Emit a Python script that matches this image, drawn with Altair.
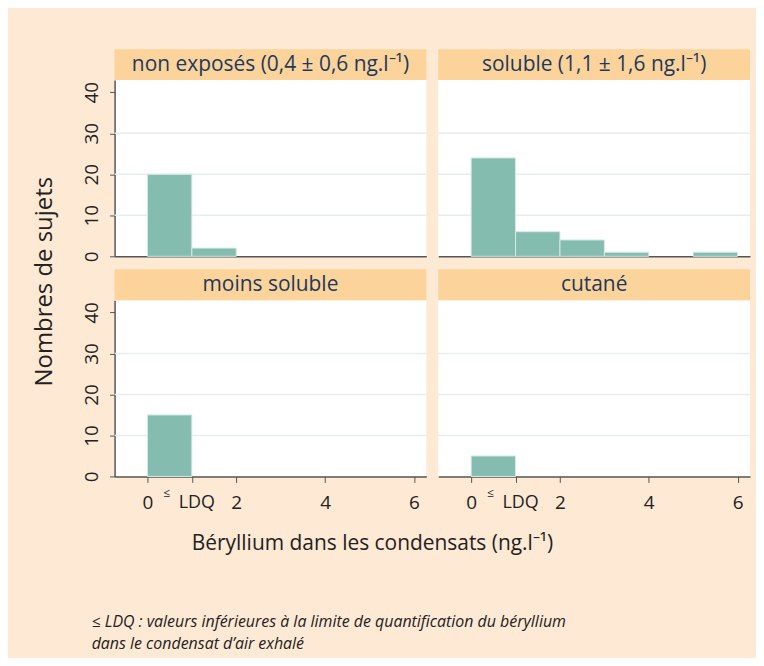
import altair as alt
import pandas as pd

# ---- data ----
panel_titles = ["non exposés (0,4 ± 0,6 ng.l⁻¹)", "soluble (1,1 ± 1,6 ng.l⁻¹)", "moins soluble", "cutané"]
bin_starts = [0, 1, 2, 3, 4, 5]
bin_ends = [1, 2, 3, 4, 5, 6]
counts_non_exposes = [20, 2, 0, 0, 0, 0]
counts_soluble = [24, 6, 4, 1, 0, 1]
counts_moins_soluble = [15, 0, 0, 0, 0, 0]
counts_cutane = [5, 0, 0, 0, 0, 0]
y_ticks = [0, 10, 20, 30, 40]
grid_values = [10, 20, 30]
x_ticks = [0, 1, 2, 4, 6]
x_tick_labels = ["0", "", "2", "4", "6"]   # tick 1 is labelled "≤ LDQ" below
ldq_tick = 1
ldq_sign = "≤"
ldq_text = "LDQ"
x_title = "Béryllium dans les condensats (ng.l⁻¹)"
y_title = "Nombres de sujets"
footnote_lines = [
    "≤ LDQ : valeurs inférieures à  la limite de quantification du béryllium",
    "dans le condensat d’air exhalé",
]

# ---- styling ----
BG = "#fde9d4"
HDR_FILL = "#fbd39b"
HDR_TEXT = "#1d3a5c"
BAR = "#84bcb0"
BAR_STROKE = "#d6ebe6"
GRID = "#e6eeee"
AXIS = "#555555"
TEXT = "#222222"
W, H, HDR = 313, 177, 31

label_expr = "datum.label"
for v, l in reversed(list(zip(x_ticks, x_tick_labels))):
    label_expr = f"datum.value == {v} ? '{l}' : ({label_expr})"

xscale = alt.Scale(domain=[-0.74, 6.28], nice=False, zero=False)
yscale = alt.Scale(domain=[0, 43], nice=False, zero=True)


def panel(title, counts, show_y, show_x_labels, with_ytitle=False):
    df = pd.DataFrame({"start": bin_starts, "end": bin_ends, "count": counts})
    df = df[df["count"] > 0]
    if show_x_labels:
        xaxis = alt.Axis(values=x_ticks, labelExpr=label_expr, title=None, grid=False,
                         tickSize=6, tickColor=AXIS, domainColor=AXIS, domainWidth=1.5,
                         labelFontSize=19, labelColor=TEXT, labelPadding=11)
    else:
        xaxis = alt.Axis(labels=False, ticks=False, title=None, grid=False,
                         domainColor=AXIS, domainWidth=1.5)
    if show_y:
        yaxis = alt.Axis(values=y_ticks, labelAngle=270, title=None, grid=False,
                         tickSize=5, tickColor=AXIS, domainColor=AXIS, domainWidth=1.5,
                         labelFontSize=19, labelColor=TEXT, labelPadding=8)
    else:
        yaxis = None

    grid = alt.Chart(pd.DataFrame({"g": grid_values})).mark_rule(
        color=GRID, strokeWidth=1.5
    ).encode(y=alt.Y("g:Q", scale=yscale, axis=yaxis))

    bars = alt.Chart(df).mark_rect(
        color=BAR, stroke=BAR_STROKE, strokeWidth=1
    ).encode(
        x=alt.X("start:Q", scale=xscale, axis=xaxis),
        x2="end:Q",
        y=alt.Y("count:Q", scale=yscale, axis=yaxis),
    )

    hdr_df = pd.DataFrame({"t": [title]})
    hdr_rect = alt.Chart(hdr_df).mark_rect(color=HDR_FILL).encode(
        x=alt.value(0), x2=alt.value(W), y=alt.value(-HDR), y2=alt.value(0)
    )
    hdr_text = alt.Chart(hdr_df).mark_text(
        fontSize=21, color=HDR_TEXT, align="center", baseline="middle"
    ).encode(x=alt.value(W / 2), y=alt.value(-HDR / 2), text="t:N")

    layers = [grid, bars, hdr_rect, hdr_text]
    if show_x_labels:
        ldq_df = pd.DataFrame({"x": [ldq_tick], "sign": [ldq_sign], "t": [ldq_text]})
        sign = alt.Chart(ldq_df).mark_text(
            fontSize=12, color=TEXT, align="center", baseline="middle", dx=-25
        ).encode(x=alt.X("x:Q", scale=xscale, axis=xaxis), y=alt.value(H + 17), text="sign:N")
        ldq = alt.Chart(ldq_df).mark_text(
            fontSize=18, color=TEXT, align="center", baseline="middle", dx=5
        ).encode(x=alt.X("x:Q", scale=xscale, axis=xaxis), y=alt.value(H + 27), text="t:N")
        layers += [sign, ldq]
    if with_ytitle:
        ytl = alt.Chart(pd.DataFrame({"t": [y_title]})).mark_text(
            fontSize=24, color=TEXT, angle=270, align="center", baseline="middle"
        ).encode(x=alt.value(-70), y=alt.value(-18.5), text="t:N")
        layers.append(ytl)

    return alt.layer(*layers).properties(
        width=W, height=H, view=alt.ViewBackground(fill="white", stroke=None)
    )


foot_title = alt.Chart(pd.DataFrame({"t": [x_title]})).mark_text(
    fontSize=21, color=TEXT, align="center", baseline="middle"
).encode(x=alt.value(259), y=alt.value(24), text="t:N")

foot_note = alt.Chart(pd.DataFrame({"t": ["\n".join(footnote_lines)]})).mark_text(
    fontSize=16, fontStyle="italic", color=TEXT, align="left", baseline="middle",
    lineBreak="\n", lineHeight=22
).encode(x=alt.value(-23), y=alt.value(102), text="t:N")

footer = alt.layer(foot_title, foot_note).properties(
    width=W, height=137, view=alt.ViewBackground(fill=None, stroke=None)
)

chart = alt.concat(
    panel(panel_titles[0], counts_non_exposes, True, False),
    panel(panel_titles[1], counts_soluble, False, False),
    panel(panel_titles[2], counts_moins_soluble, True, True, with_ytitle=True),
    panel(panel_titles[3], counts_cutane, False, True),
    footer,
    columns=2,
    spacing={"row": 44, "column": 12},
    bounds="flush",
).properties(
    background=BG,
    padding={"left": 24, "top": 40, "right": 5, "bottom": 0},
).configure(font="Open Sans").configure_view(stroke=None)

chart.save("out.html", embed_options={"renderer": "svg", "actions": False})
